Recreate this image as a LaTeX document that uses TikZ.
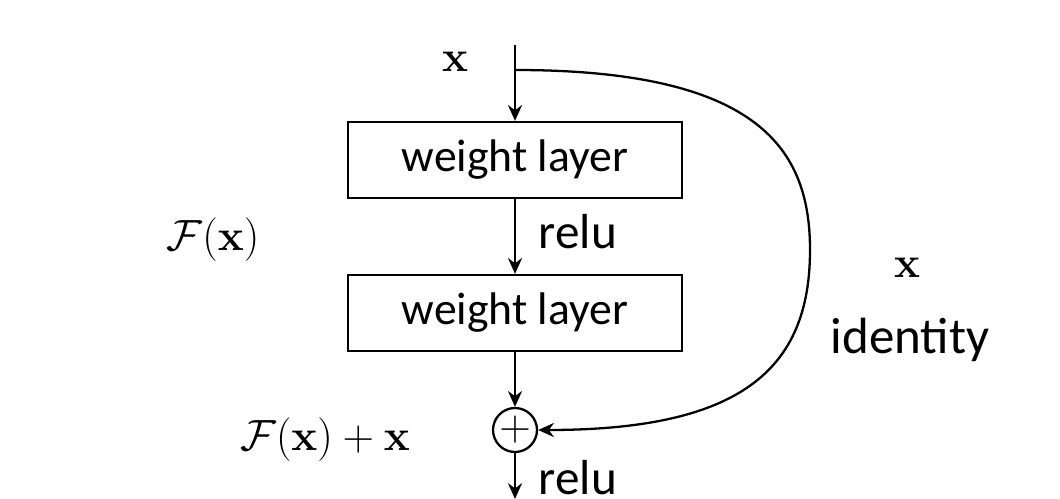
\documentclass[tikz,border=0pt]{standalone}
\usepackage{amsmath}
\usepackage[no-math]{fontspec}
\setmainfont{Carlito}
\usetikzlibrary{arrows.meta}
\begin{document}
\begin{tikzpicture}[x=0.02cm,y=-0.02cm,
  box/.style={draw,line width=1.3pt,minimum width=6.68cm,minimum height=1.52cm,font=\fontsize{26}{30}\selectfont},
  arr/.style={line width=1.3pt,-{Stealth[length=9pt,width=8pt]}},
  lab/.style={font=\fontsize{28}{32}\selectfont},
  mth/.style={font=\fontsize{34}{38}\selectfont}]
\useasboundingbox (0,0) rectangle (1060,499);
\coordinate (top) at (515,45);
\coordinate (branch) at (515,70);
\node[box] (b1) at (515,160) {weight layer};
\node[box] (b2) at (515,313) {weight layer};
\node[draw,circle,line width=1.3pt,minimum size=0.88cm,inner sep=0pt,font=\fontsize{30}{30}\selectfont] (sum) at (515,430) {$+$};
\coordinate (out) at (515,499);
\draw[arr] (top) -- (b1.north);
\draw[arr] (b1.south) -- (b2.north);
\draw[arr] (b2.south) -- (sum.north);
\draw[arr] (sum.south) -- (out);
\draw[arr] (branch) .. controls (760,70) and (810,150) .. (810,250) .. controls (810,370) and (740,430) .. (sum.east);
\node[mth] (x1) at (455,62) {$\mathbf{x}$};
\node[lab] (r1) at (578,232) {relu};
\node[lab] (r2) at (578,478) {relu};
\node[mth] (F) at (213,240) {$\mathcal{F}(\mathbf{x})$};
\node[mth] (Fx) at (325,440) {$\mathcal{F}(\mathbf{x})+\mathbf{x}$};
\node[mth] (x2) at (907,268) {$\mathbf{x}$};
\node[font=\fontsize{29}{32}\selectfont] (id) at (910,340) {identity};
\end{tikzpicture}
\end{document}
